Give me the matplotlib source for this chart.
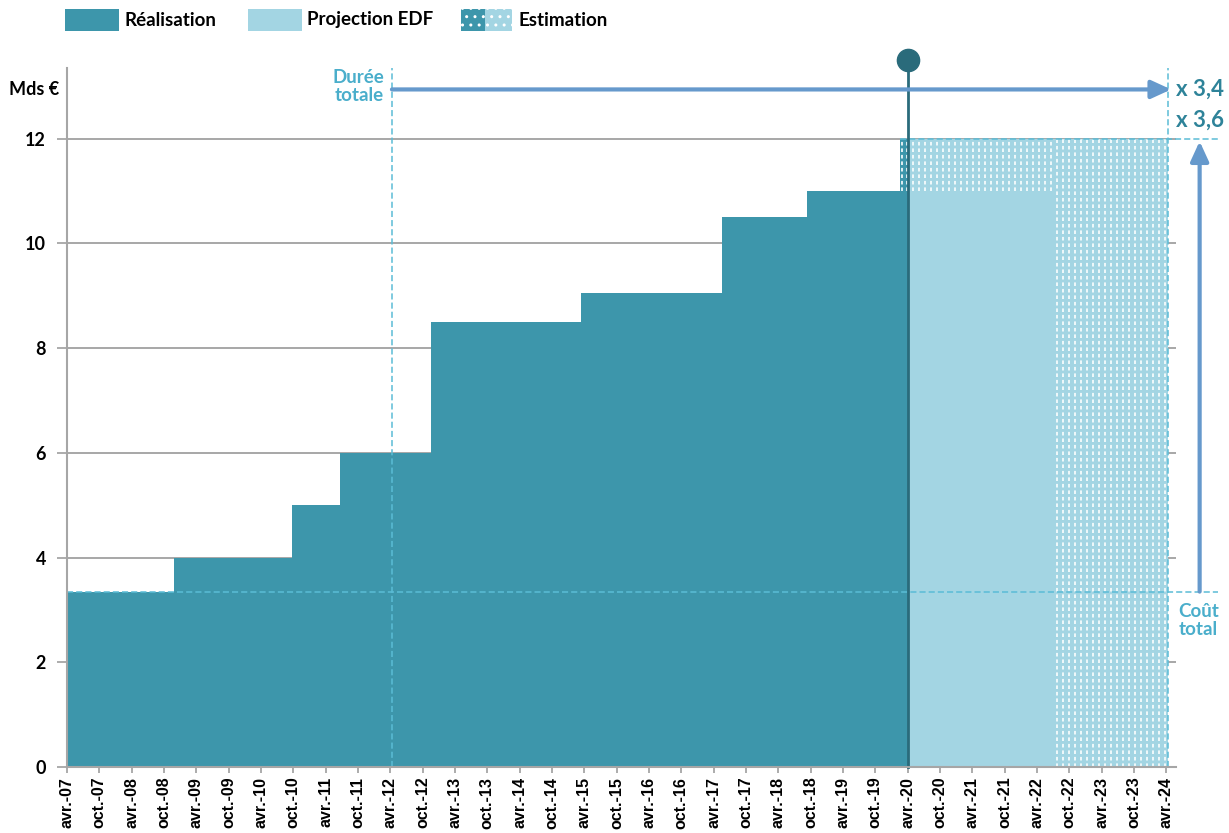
import numpy as np
import matplotlib.pyplot as plt
from matplotlib.patches import Rectangle

# tick labels, one every six months (avr./oct.)
years = range(7, 25)
tick_labels = []
for y in years:
    tick_labels.append("avr.-%02d" % y)
    if y < 24:
        tick_labels.append("oct.-%02d" % y)

# x in half-years since avr.-07
real_start = [0, 3.3, 6.95, 8.45, 11.25, 15.9, 20.25, 22.9, 25.75]
real_val = [3.35, 4.0, 5.0, 6.0, 8.5, 9.05, 10.5, 11.0, 12.0]
real_end = 26.0

proj_start, proj_end, proj_val = 26.0, 30.6, 11.0
est_start, est_end, est_val = 25.75, 34.05, 12.0

cost_initial = 3.35     # coût total initial
duration_start = 10.05  # durée totale initiale (avr.-12)
today = 26.0            # avr.-20

c_real = "#3d96ab"
c_proj = "#a3d5e3"
c_dark = "#2a6b7b"
c_arrow = "#6699cc"
c_dash = "#5bbcd6"
c_note = "#4aaecb"
c_mult = "#2e8399"

plt.rcParams['font.family'] = ['Lato', 'DejaVu Sans']

fig = plt.figure(figsize=(12.29, 8.33), dpi=100)
ax = fig.add_axes([0.0545, 0.0792, 0.9024, 0.8392])

ax.set_xlim(0, 34.3)
ax.set_ylim(0, 13.35)

# gridlines behind everything
for g in range(2, 13, 2):
    ax.axhline(g, color="#a0a0a0", lw=1.3, zorder=0)

# réalisation (steps)
xs = real_start + [real_end]
vals = real_val + [real_val[-1]]
ax.fill_between(xs, 0, vals, step="post", color=c_real, lw=0, zorder=2)

# projection EDF
ax.fill_between([proj_start, proj_end], 0, proj_val, color=c_proj, lw=0, zorder=2)

# estimation: light fill + white dotted vertical lines
ax.fill_between([proj_start, proj_end], proj_val, est_val, color=c_proj, lw=0, zorder=2)
ax.fill_between([proj_end, est_end], 0, est_val, color=c_proj, lw=0, zorder=2)
xd = np.arange(est_start + 0.06, est_end, 0.185)
base = np.where(xd < proj_end, proj_val, 0)
ax.vlines(xd, base, est_val, colors="white", lw=1.3, alpha=0.9,
          linestyles=(0, (2, 1.6)), zorder=3)

# today line with marker
ax.plot([today, today], [0, 13.5], color=c_dark, lw=2, zorder=5, clip_on=False)
ax.plot([today], [13.5], "o", color=c_dark, ms=16, zorder=6, clip_on=False)

# dashed reference lines
dash = dict(color=c_dash, lw=1.1, ls=(0, (4, 2)), zorder=4, clip_on=False)
ax.plot([duration_start, duration_start], [0, 13.35], **dash)
ax.plot([est_end, est_end], [0, 13.35], **dash)
ax.plot([0, 35.6], [cost_initial, cost_initial], **dash)
ax.plot([est_start, 35.6], [est_val, est_val], **dash)

# arrows
ax.annotate("", xy=(est_end + 0.1, 12.94), xytext=(duration_start, 12.94),
            arrowprops=dict(arrowstyle="-|>,head_length=1.2,head_width=0.55",
                            color=c_arrow, lw=3, shrinkA=0, shrinkB=0),
            annotation_clip=False, zorder=6)
ax.annotate("", xy=(35.03, est_val - 0.05), xytext=(35.03, cost_initial),
            arrowprops=dict(arrowstyle="-|>,head_length=1.2,head_width=0.55",
                            color=c_arrow, lw=3, shrinkA=0, shrinkB=0),
            annotation_clip=False, zorder=6)

# annotations
ax.text(9.8, 13.0, "Durée\ntotale", ha="right", va="center", color=c_note,
        fontsize=13.5, fontweight="bold", linespacing=1.1)
ax.text(34.3, 12.94, "x 3,4", ha="left", va="center", color=c_mult,
        fontsize=16, fontweight="bold", clip_on=False)
ax.text(34.3, 12.35, "x 3,6", ha="left", va="center", color=c_mult,
        fontsize=16, fontweight="bold", clip_on=False)
ax.text(35.0, 2.8, "Coût\ntotal", ha="center", va="center", color=c_note,
        fontsize=13.5, fontweight="bold", linespacing=1.1, clip_on=False)
ax.text(-0.25, 12.94, "Mds €", ha="right", va="center", color="black",
        fontsize=13, fontweight="bold")

# axes styling
for s in ["top", "right"]:
    ax.spines[s].set_visible(False)
for s in ["left", "bottom"]:
    ax.spines[s].set_color("#a6a6a6")
    ax.spines[s].set_linewidth(1.5)
    ax.spines[s].set_zorder(7)

ax.set_yticks(range(0, 13, 2))
ax.set_yticklabels([str(v) for v in range(0, 13, 2)], fontweight="bold", fontsize=13)
ax.tick_params(axis="y", length=7, color="#a6a6a6", width=1.3, pad=8)

ax.set_xticks(range(len(tick_labels)))
ax.set_xticklabels(tick_labels, rotation=90, fontsize=11.5, fontweight="bold",
                   family="Liberation Sans")
ax.tick_params(axis="x", length=4, color="#a6a6a6", width=1.3, pad=3)

# legend drawn in figure pixels
W, H = 1229.0, 833.0
def fig_rect(x0, y0, w, h, **kw):
    r = Rectangle((x0 / W, 1 - (y0 + h) / H), w / W, h / H,
                  transform=fig.transFigure, **kw)
    fig.add_artist(r)
    return r

fig_rect(65, 9, 54, 22, color=c_real, lw=0)
fig.text(124 / W, 1 - 20 / H, "Réalisation", va="center", fontsize=13.5, fontweight="bold")
fig_rect(248, 9, 54, 22, color=c_proj, lw=0)
fig.text(307 / W, 1 - 20 / H, "Projection EDF", va="center", fontsize=13.5, fontweight="bold")
fig_rect(461, 9, 24, 22, facecolor=c_real, edgecolor="white", lw=0, hatch="..")
fig_rect(485, 9, 27, 22, facecolor=c_proj, edgecolor="white", lw=0, hatch="..")
fig.text(518 / W, 1 - 20 / H, "Estimation", va="center", fontsize=13.5, fontweight="bold")

fig.savefig("out.png", dpi=100)
